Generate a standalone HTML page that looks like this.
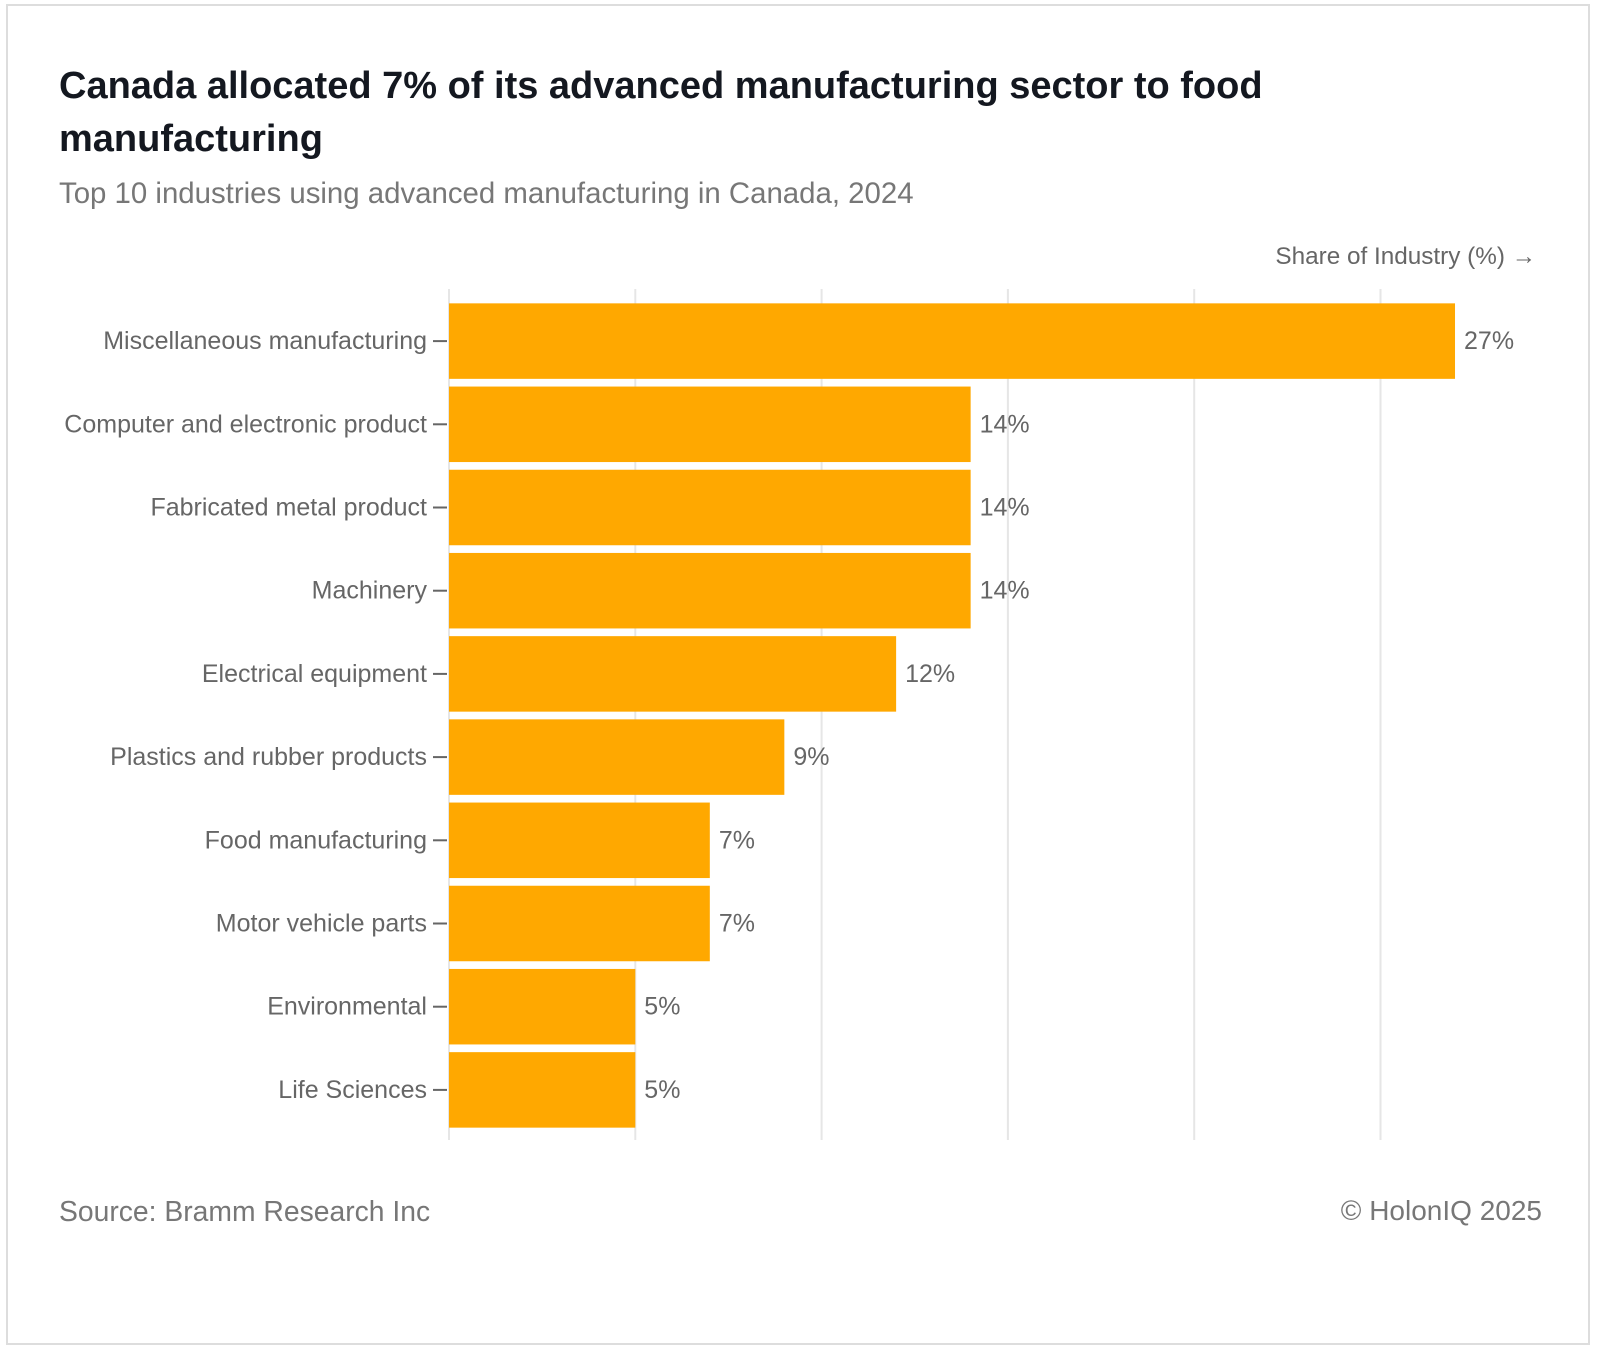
<!DOCTYPE html>
<html><head><meta charset="utf-8"><style>
body{margin:0;width:1600px;height:1351px;background:#fff;font-family:"Liberation Sans",sans-serif;position:relative;overflow:hidden}
.frame{position:absolute;left:6px;top:4px;width:1584px;height:1341px;border:2px solid #ddd;box-sizing:border-box}
.t{position:absolute;white-space:nowrap}
</style></head><body>
<div class="frame"></div>
<div class="t" style="left:59px;top:60px;font-size:38px;font-weight:bold;line-height:53px;color:#141820;width:1450px;white-space:normal">Canada allocated 7% of its advanced manufacturing sector to food<br>manufacturing</div>
<div class="t" style="left:59px;top:177px;font-size:29.4px;color:#777">Top 10 industries using advanced manufacturing in Canada, 2024</div>
<div class="t" style="left:59px;top:1195px;font-size:28.3px;color:#777">Source: Bramm Research Inc</div>
<div class="t" style="right:58px;top:1195px;font-size:28px;color:#777">© HolonIQ 2025</div>
<svg id="chart" width="1600" height="1351" style="position:absolute;left:0;top:0"></svg>
<script>
const categories=["Miscellaneous manufacturing","Computer and electronic product","Fabricated metal product","Machinery","Electrical equipment","Plastics and rubber products","Food manufacturing","Motor vehicle parts","Environmental","Life Sciences"];
const values=[27,14,14,14,12,9,7,7,5,5];
const valueLabels=["27%","14%","14%","14%","12%","9%","7%","7%","5%","5%"];
const gridTicks=[0,5,10,15,20,25];
const svg=document.getElementById('chart');
const NS='http://www.w3.org/2000/svg';
const x0=449,pxPer=37.26,top0=299.5,step=83.2,barH=75.5;
const xs=v=>x0+v*pxPer;
const yc=i=>top0+step*i+step/2;
function mk(t,a){const e=document.createElementNS(NS,t);for(const k in a)e.setAttribute(k,a[k]);svg.appendChild(e);return e;}
gridTicks.forEach((g,i)=>{const l=mk('line',{x1:xs(g),x2:xs(g),y1:289,y2:1140,stroke:'#e6e6e6','stroke-width':2});

});
const at=mk('text',{x:1536,y:264,'text-anchor':'end','font-size':24.3,fill:'#666','font-family':'Liberation Sans'});
at.textContent='Share of Industry (%) →';


categories.forEach((c,i)=>{
const y=yc(i);
const r=mk('rect',{x:x0,y:y-barH/2,width:xs(values[i])-x0,height:barH,fill:'#FFA800'});


const tk=mk('line',{x1:433,x2:447,y1:y,y2:y,stroke:'#666','stroke-width':2});


const lb=mk('text',{x:427,y:y+8,'text-anchor':'end','font-size':25,fill:'#666','font-family':'Liberation Sans'});
lb.textContent=c;


const vl=mk('text',{x:xs(values[i])+9,y:y+8,'font-size':25,fill:'#666','font-family':'Liberation Sans'});
vl.textContent=valueLabels[i];


});
</script>
</body></html>
